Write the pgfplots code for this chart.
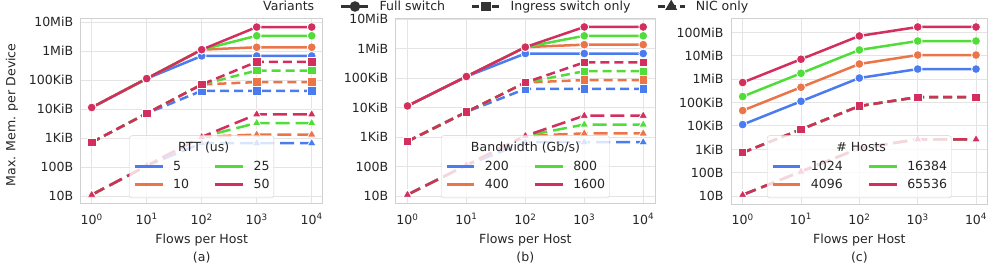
\documentclass[border=0pt]{standalone}
\usepackage{pgfplots}
\usepackage{pgfplotstable}
\pgfplotsset{compat=1.18}
\usepackage{fontspec}
\setmainfont{DejaVu Sans}
\definecolor{cblue}{HTML}{4A7CF0}
\definecolor{corange}{HTML}{EB7448}
\definecolor{cgreen}{HTML}{50DD3A}
\definecolor{cred}{HTML}{D22E5E}
\definecolor{gridgrey}{HTML}{E4E4E4}
\definecolor{framegrey}{HTML}{D0D0D0}
\definecolor{textgrey}{HTML}{262626}
\definecolor{darkgrey}{HTML}{333333}
\newcommand\fs{\fontsize{12.6}{15}\selectfont}

\pgfplotstableread{
x f1 f2 f3 f4 i1 i2 i3 i4 n1 n2 n3 n4
1 11700 11700 11700 11700 731 731 731 731 11.25 11.25 11.25 11.25
10 117000 117000 117000 117000 7313 7313 7313 7313 112.5 112.5 112.5 112.5
100 709000 1170000 1170000 1170000 44313 73125 73125 73125 682 1125 1125 1125
1000 709000 1418000 3545000 7090000 44313 88625 221563 443125 682 1363 3409 6817
10000 709000 1418000 3545000 7090000 44313 88625 221563 443125 682 1363 3409 6817
}\tabA

\pgfplotstableread{
x f1 f2 f3 f4 i1 i2 i3 i4 n1 n2 n3 n4
1 11700 11700 11700 11700 731 731 731 731 11.25 11.25 11.25 11.25
10 117000 117000 117000 117000 7313 7313 7313 7313 112.5 112.5 112.5 112.5
100 709000 1170000 1170000 1170000 44313 73125 73125 73125 682 1125 1125 1125
1000 709000 1418000 2836000 5672000 44313 88625 177250 354500 682 1363 2727 5454
10000 709000 1418000 2836000 5672000 44313 88625 177250 354500 682 1363 2727 5454
}\tabB

\pgfplotstableread{
x f1 f2 f3 f4 i1 i2 i3 i4 n1 n2 n3 n4
1 11700 46800 187200 748800 731 731 731 731 11.25 11.25 11.25 11.25
10 117000 468000 1872000 7488000 7313 7313 7313 7313 112.5 112.5 112.5 112.5
100 1170000 4680000 18720000 74880000 73125 73125 73125 73125 1125 1125 1125 1125
1000 2836000 11344000 45376000 181504000 177250 177250 177250 177250 2727 2727 2727 2727
10000 2836000 11344000 45376000 181504000 177250 177250 177250 177250 2727 2727 2727 2727
}\tabC

\pgfplotsset{
  memaxis/.style={
    scale only axis, height=185.5bp, anchor=north west,
    xmin=0.631, xmax=15849,
    xtick={1,10,100,1000,10000},
    xticklabels={10\textsuperscript{0},10\textsuperscript{1},10\textsuperscript{2},10\textsuperscript{3},10\textsuperscript{4}},
    tick style={draw=none},
    minor xtick={}, minor ytick={},
    grid=major,
    major grid style={color=gridgrey, line width=0.9bp},
    axis line style={color=framegrey, line width=1bp},
    tick label style={font=\fs, text=textgrey},
    xticklabel style={yshift=-6bp},
    yticklabel style={xshift=-4bp},
    label style={font=\fs, text=textgrey},
    xlabel={Flows per Host},
    xlabel style={at={(axis description cs:0.5,0)}, anchor=center, yshift=-36bp},
    clip=false,
    legend cell align=left,
    legend columns=2,
    legend style={at={(0.5,0.032)}, anchor=south, fill=white, fill opacity=0.8,
      draw opacity=1, text opacity=1, draw=framegrey, rounded corners=2.5bp,
      font=\fs, text=textgrey, inner xsep=4.3bp, inner ysep=6.3bp,
      nodes={inner sep=0pt, text height=10bp, text depth=3bp},
      row sep=5.3bp,
      /tikz/every odd column/.append style={column sep=9.4bp},
      /tikz/every even column/.append style={column sep=25bp}},
    legend image code/.code={\draw (0bp,0.5bp) -- (27.5bp,0.5bp);},
  },
  memfull/.style={solid, line width=2.5bp, mark=*, mark size=4.4bp,
    mark options={solid, draw=white, line width=0.8bp}},
  memingress/.style={dash pattern=on 9bp off 5bp, line width=2.5bp, mark=square*, mark size=4.2bp,
    mark options={solid, draw=white, line width=0.8bp}},
  memnic/.style={dash pattern=on 14bp off 6bp, line width=2.5bp, mark=triangle*, mark size=5bp,
    mark options={solid, draw=white, line width=0.8bp}},
}

\begin{document}
\begin{tikzpicture}
\path[use as bounding box] (0,0) rectangle (997bp,265bp);

% ---------------- (a)
\begin{axis}[xmode=log, ymode=log, memaxis, at={(80.7bp,246.5bp)}, width=242bp,
  ymin=5.4, ymax=1.4e7,
  ytick={10,100,1024,10240,102400,1048576,10485760},
  yticklabels={10B,100B,1KiB,10KiB,100KiB,1MiB,10MiB},
  ylabel={Max. Mem. per Device},
  ylabel style={at={(axis description cs:-0.284,0.48)}, anchor=center},
]
\addlegendimage{empty legend}\addlegendentry{\makebox[0pt][l]{\hspace{4.4bp}RTT (us)}}
\addlegendimage{empty legend}\addlegendentry{}
\addlegendimage{cblue, line width=2.5bp}\addlegendentry{5}
\addlegendimage{cgreen, line width=2.5bp}\addlegendentry{25}
\addlegendimage{corange, line width=2.5bp}\addlegendentry{10}
\addlegendimage{cred, line width=2.5bp}\addlegendentry{50}
\addplot[memfull, cblue, forget plot] table[x=x,y=f1]{\tabA};
\addplot[memingress, cblue, forget plot] table[x=x,y=i1]{\tabA};
\addplot[memnic, cblue, forget plot] table[x=x,y=n1]{\tabA};
\addplot[memfull, corange, forget plot] table[x=x,y=f2]{\tabA};
\addplot[memingress, corange, forget plot] table[x=x,y=i2]{\tabA};
\addplot[memnic, corange, forget plot] table[x=x,y=n2]{\tabA};
\addplot[memfull, cgreen, forget plot] table[x=x,y=f3]{\tabA};
\addplot[memingress, cgreen, forget plot] table[x=x,y=i3]{\tabA};
\addplot[memnic, cgreen, forget plot] table[x=x,y=n3]{\tabA};
\addplot[memfull, cred, forget plot] table[x=x,y=f4]{\tabA};
\addplot[memingress, cred, forget plot] table[x=x,y=i4]{\tabA};
\addplot[memnic, cred, forget plot] table[x=x,y=n4]{\tabA};
\node[font=\fs, text=textgrey, yshift=-54bp] at (axis description cs:0.5,0) {(a)};
\end{axis}

% ---------------- (b)
\begin{axis}[xmode=log, ymode=log, memaxis, at={(395.7bp,246.5bp)}, width=259.3bp,
  ymin=5.42, ymax=1.1e7,
  ytick={10,100,1024,10240,102400,1048576,10485760},
  yticklabels={10B,100B,1KiB,10KiB,100KiB,1MiB,10MiB},
]
\addlegendimage{empty legend}\addlegendentry{\makebox[0pt][l]{\hspace{-14.4bp}Bandwidth (Gb/s)}}
\addlegendimage{empty legend}\addlegendentry{}
\addlegendimage{cblue, line width=2.5bp}\addlegendentry{200}
\addlegendimage{cgreen, line width=2.5bp}\addlegendentry{800}
\addlegendimage{corange, line width=2.5bp}\addlegendentry{400}
\addlegendimage{cred, line width=2.5bp}\addlegendentry{1600}
\addplot[memfull, cblue, forget plot] table[x=x,y=f1]{\tabB};
\addplot[memingress, cblue, forget plot] table[x=x,y=i1]{\tabB};
\addplot[memnic, cblue, forget plot] table[x=x,y=n1]{\tabB};
\addplot[memfull, corange, forget plot] table[x=x,y=f2]{\tabB};
\addplot[memingress, corange, forget plot] table[x=x,y=i2]{\tabB};
\addplot[memnic, corange, forget plot] table[x=x,y=n2]{\tabB};
\addplot[memfull, cgreen, forget plot] table[x=x,y=f3]{\tabB};
\addplot[memingress, cgreen, forget plot] table[x=x,y=i3]{\tabB};
\addplot[memnic, cgreen, forget plot] table[x=x,y=n3]{\tabB};
\addplot[memfull, cred, forget plot] table[x=x,y=f4]{\tabB};
\addplot[memingress, cred, forget plot] table[x=x,y=i4]{\tabB};
\addplot[memnic, cred, forget plot] table[x=x,y=n4]{\tabB};
\node[font=\fs, text=textgrey, yshift=-54bp] at (axis description cs:0.5,0) {(b)};
\end{axis}

% ---------------- (c)
\begin{axis}[xmode=log, ymode=log, memaxis, at={(731bp,246.5bp)}, width=256.7bp,
  ymin=4.56, ymax=4.2e8,
  ytick={10,100,1024,10240,102400,1048576,10485760,104857600},
  yticklabels={10B,100B,1KiB,10KiB,100KiB,1MiB,10MiB,100MiB},
]
\addlegendimage{empty legend}\addlegendentry{\makebox[0pt][l]{\hspace{25bp}\# Hosts}}
\addlegendimage{empty legend}\addlegendentry{}
\addlegendimage{cblue, line width=2.5bp}\addlegendentry{1024}
\addlegendimage{cgreen, line width=2.5bp}\addlegendentry{16384}
\addlegendimage{corange, line width=2.5bp}\addlegendentry{4096}
\addlegendimage{cred, line width=2.5bp}\addlegendentry{65536}
\addplot[memfull, cblue, forget plot] table[x=x,y=f1]{\tabC};
\addplot[memingress, cblue, forget plot] table[x=x,y=i1]{\tabC};
\addplot[memnic, cblue, forget plot] table[x=x,y=n1]{\tabC};
\addplot[memfull, corange, forget plot] table[x=x,y=f2]{\tabC};
\addplot[memingress, corange, forget plot] table[x=x,y=i2]{\tabC};
\addplot[memnic, corange, forget plot] table[x=x,y=n2]{\tabC};
\addplot[memfull, cgreen, forget plot] table[x=x,y=f3]{\tabC};
\addplot[memingress, cgreen, forget plot] table[x=x,y=i3]{\tabC};
\addplot[memnic, cgreen, forget plot] table[x=x,y=n3]{\tabC};
\addplot[memfull, cred, forget plot] table[x=x,y=f4]{\tabC};
\addplot[memingress, cred, forget plot] table[x=x,y=i4]{\tabC};
\addplot[memnic, cred, forget plot] table[x=x,y=n4]{\tabC};
\node[font=\fs, text=textgrey, yshift=-54bp] at (axis description cs:0.5,0) {(c)};
\end{axis}

% ---------------- top legend (Variants)
\begin{axis}[at={(253bp,258bp)}, anchor=center, hide axis, scale only axis,
  width=4bp, height=4bp, xmin=0, xmax=1, ymin=0, ymax=1,
  legend columns=-1,
  legend style={at={(0.5,0.5)}, anchor=west, draw=none, fill=none,
    font=\fs, text=textgrey, inner sep=0pt,
    nodes={inner sep=0pt, text height=10bp, text depth=3bp},
    /tikz/every odd column/.append style={column sep=10bp},
    /tikz/every even column/.append style={column sep=26bp}},
  legend image code/.code={\draw[mark repeat=2, mark phase=2] plot coordinates {(0bp,0.5bp) (13.5bp,0.5bp) (27bp,0.5bp)};},
]
\addplot[draw=none, forget plot] coordinates {(0.5,0.5)};
\addlegendimage{empty legend}\addlegendentry{Variants}
\addlegendimage{darkgrey, line width=2.4bp, mark=*, mark size=4bp, mark options={solid}}\addlegendentry{Full switch}
\addlegendimage{darkgrey, line width=2.4bp, dash pattern=on 7bp off 3bp, mark=square*, mark size=3.6bp, mark options={solid}}\addlegendentry{Ingress switch only}
\addlegendimage{darkgrey, line width=2.4bp, dash pattern=on 7bp off 4bp, mark=triangle*, mark size=4.5bp, mark options={solid}}\addlegendentry{NIC only}
\end{axis}
\end{tikzpicture}
\end{document}
